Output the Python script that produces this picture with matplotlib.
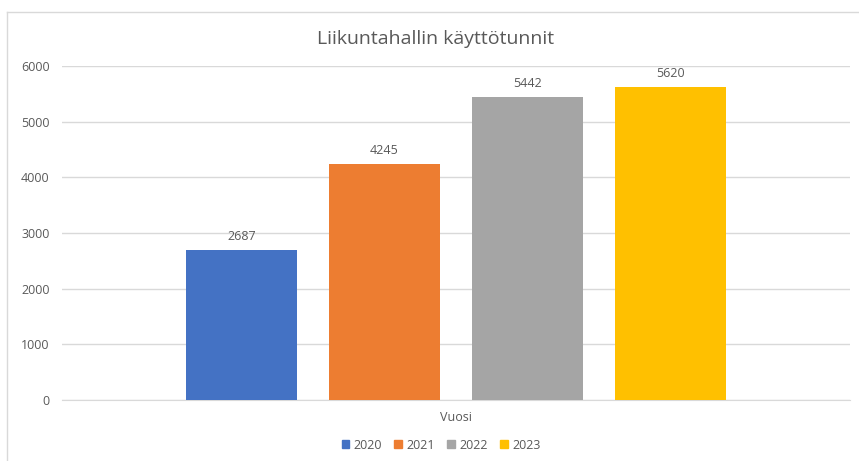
import numpy as np
import matplotlib
matplotlib.use("Agg")
from matplotlib import pyplot as plt
from matplotlib.patches import Rectangle

YEARS = ['2020', '2021', '2022', '2023']
HOURS = [2687, 4245, 5442, 5620]
COLORS = ['#4472C4', '#ED7D31', '#A5A5A5', '#FFC000']
TITLE = 'Liikuntahallin käyttötunnit'
XLABEL = 'Vuosi'

W, H = 859, 461
GREY = '#595959'

plt.rcParams['font.family'] = ['Open Sans', 'DejaVu Sans']

fig = plt.figure(figsize=(W / 100, H / 100), dpi=100)
# plot area in pixels: x 62..850, y 66..400
ax = fig.add_axes([62 / W, 1 - 400 / H, (850 - 62) / W, (400 - 66) / H])

xpos = np.arange(len(YEARS))
bars = ax.bar(xpos, HOURS, width=0.78, color=COLORS, label=YEARS, zorder=3)
for b, v in zip(bars, HOURS):
    ax.annotate(str(v), (b.get_x() + b.get_width() / 2, v), xytext=(0, 5),
                textcoords='offset points', ha='center', va='bottom',
                fontsize=9, color=GREY)

ax.set_xlim(-1.257, 4.257)
ax.set_ylim(0, 6000)
ax.set_yticks(range(0, 6001, 1000))
ax.set_xticks([1.5])
ax.set_xticklabels([XLABEL])
ax.tick_params(axis='x', length=0, pad=8, labelsize=9, labelcolor=GREY)
ax.tick_params(axis='y', length=0, pad=9, labelsize=9, labelcolor=GREY)
ax.grid(axis='y', color='#D9D9D9', linewidth=1, zorder=0)
for s in ['top', 'right', 'left']:
    ax.spines[s].set_visible(False)
ax.spines['bottom'].set_color('#D9D9D9')

fig.text(436 / W, 1 - 39 / H, TITLE, ha='center', va='center',
         fontsize=14, color=GREY)

handles = [Rectangle((0, 0), 1, 1, color=c) for c in COLORS]
fig.legend(handles, YEARS, loc='center', bbox_to_anchor=(441 / W, 1 - 445 / H),
           ncol=4, frameon=False, fontsize=9, handlelength=0.6,
           handleheight=0.6, handletextpad=0.35, columnspacing=1.0,
           labelcolor=GREY)

# chart border (only top and left visible in the crop)
fig.add_artist(plt.Line2D([7 / W, 1], [1 - 12 / H, 1 - 12 / H], color='#D9D9D9', lw=1))
fig.add_artist(plt.Line2D([7 / W, 7 / W], [0, 1 - 12 / H], color='#D9D9D9', lw=1))

fig.savefig('out.png', dpi=100)
